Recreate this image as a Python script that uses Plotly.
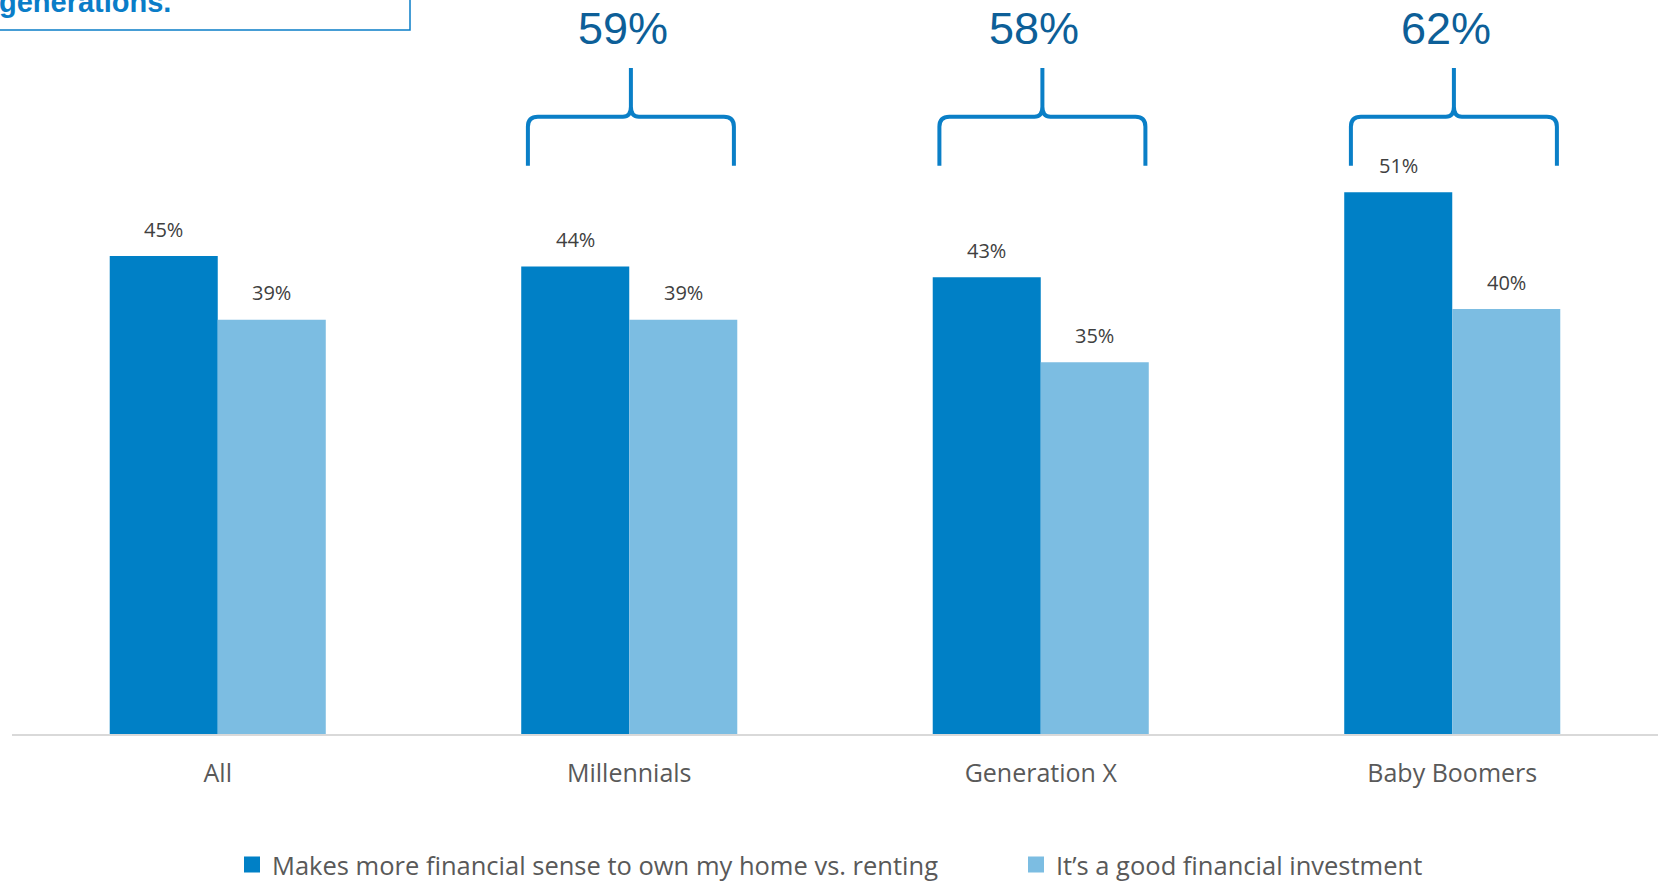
import plotly.graph_objects as go

# ---- data -------------------------------------------------------------
categories = ["All", "Millennials", "Generation X", "Baby Boomers"]
own_vs_rent = [45, 44, 43, 51]          # Makes more financial sense to own vs. renting
good_investment = [39, 39, 35, 40]      # It's a good financial investment
combined_groups = [1, 2, 3]             # indexes of the bracketed generations
combined_pct = [59, 58, 62]             # share citing either reason

series_names = ["Makes more financial sense to own my home vs. renting",
                "It\u2019s a good financial investment"]
DARK = "#0080C6"
LIGHT = "#7CBDE2"
BRACE = "#0A7FC7"

# ---- layout geometry ----------------------------------------------------
W, H = 1658, 881
M_L, M_R, M_T, M_B = 12, 0, 0, 147
PLOT_W = W - M_L - M_R
PLOT_H = H - M_T - M_B
Y_MAX = 69.1
PX_CAT = PLOT_W / len(categories)   # pixels per category slot
PX_PCT = PLOT_H / Y_MAX             # pixels per percentage point

xs = list(range(len(categories)))
BAR_W = 0.2625                       # each bar's width in category units

fig = go.Figure()
fig.add_trace(go.Bar(x=xs, y=own_vs_rent, name=series_names[0],
                     marker=dict(color=DARK, line=dict(width=0)),
                     showlegend=False, hoverinfo="skip"))
fig.add_trace(go.Bar(x=xs, y=good_investment, name=series_names[1],
                     marker=dict(color=LIGHT, line=dict(width=0)),
                     showlegend=False, hoverinfo="skip"))

# legend entries with larger square swatches
for nm, col in zip(series_names, [DARK, LIGHT]):
    fig.add_trace(go.Scatter(x=[None], y=[None], mode="markers", name=nm,
                             marker=dict(symbol="square", size=16, color=col),
                             showlegend=True))

annotations = []
# value labels above each bar
for i in xs:
    for vals, off in ((own_vs_rent, -BAR_W / 2), (good_investment, BAR_W / 2)):
        annotations.append(dict(x=i + off, y=vals[i], xref="x", yref="y",
                                text=f"{vals[i]}%", showarrow=False,
                                yanchor="middle", yshift=27,
                                font=dict(family="Open Sans", size=20, color="#404040")))

# curly braces over the generation groups, with the combined share on top
shapes = []
Y_LEG, Y_ARM, Y_TIP = 53.5, 58.1, 62.7
HALF_PX, R_PX, C_PX = 103, 10, 8


def brace_path(xc):
    def px(dx):
        return xc + dx / PX_CAT
    ry = R_PX / PX_PCT
    return (f"M{px(-HALF_PX)},{Y_LEG} L{px(-HALF_PX)},{Y_ARM - ry} "
            f"Q{px(-HALF_PX)},{Y_ARM} {px(-HALF_PX + R_PX)},{Y_ARM} "
            f"L{px(-C_PX)},{Y_ARM} Q{px(0)},{Y_ARM} {px(0)},{Y_ARM + ry} "
            f"L{px(0)},{Y_TIP} M{px(0)},{Y_ARM + ry} "
            f"Q{px(0)},{Y_ARM} {px(C_PX)},{Y_ARM} "
            f"L{px(HALF_PX - R_PX)},{Y_ARM} Q{px(HALF_PX)},{Y_ARM} {px(HALF_PX)},{Y_ARM - ry} "
            f"L{px(HALF_PX)},{Y_LEG}")


for gi, pct in zip(combined_groups, combined_pct):
    shapes.append(dict(type="path", xref="x", yref="y", path=brace_path(gi + 0.004),
                       line=dict(color=BRACE, width=4), layer="above"))
    annotations.append(dict(x=gi - 0.016, y=66.4, xref="x", yref="y",
                            text=f"{pct}%", showarrow=False, yanchor="middle",
                            font=dict(family="Liberation Sans", size=45, color="#0D5F98")))

# headline box (upper portion runs off the top edge)
def paper_x(px_):
    return (px_ - M_L) / PLOT_W


def paper_y(py_):
    return (M_T + PLOT_H - py_) / PLOT_H


shapes.append(dict(type="rect", xref="paper", yref="paper",
                   x0=paper_x(-10), x1=paper_x(410), y0=paper_y(30), y1=paper_y(-40),
                   line=dict(color="#0A7DC8", width=1.5), fillcolor="rgba(0,0,0,0)"))
annotations.append(dict(x=paper_x(-3), y=paper_y(1.5), xref="paper", yref="paper",
                        text="<b>generations.</b>", showarrow=False,
                        xanchor="left", yanchor="middle",
                        font=dict(family="Liberation Sans", size=29, color="#0A7DC8")))

fig.update_layout(
    width=W, height=H,
    margin=dict(l=M_L, r=M_R, t=M_T, b=M_B, autoexpand=False),
    paper_bgcolor="white", plot_bgcolor="white",
    barmode="group", bargap=0.475, bargroupgap=0,
    xaxis=dict(range=[-0.5, len(categories) - 0.5], tickvals=xs, ticktext=categories,
               showgrid=False, zeroline=False, showline=True, linecolor="#D9D9D9",
               linewidth=2, ticks="", ticklabelstandoff=16,
               tickfont=dict(family="Open Sans", size=25, color="#595959")),
    yaxis=dict(range=[0, Y_MAX], visible=False, showgrid=False, zeroline=False),
    legend=dict(orientation="h", x=paper_x(232), y=paper_y(865),
                xanchor="left", yanchor="middle",
                entrywidth=739, entrywidthmode="pixels",
                font=dict(family="Open Sans", size=25.5, color="#595959"),
                bgcolor="rgba(0,0,0,0)"),
    shapes=shapes, annotations=annotations,
    showlegend=True,
)

fig.write_html("out.html")
